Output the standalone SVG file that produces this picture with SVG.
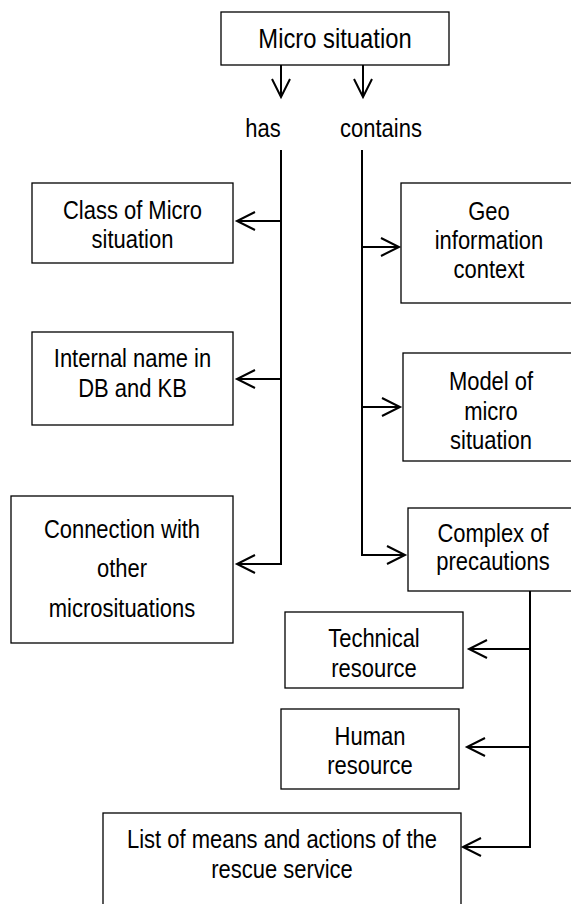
<svg xmlns="http://www.w3.org/2000/svg" width="571" height="904" viewBox="0 0 571 904">
<style>
.box{fill:#fff;stroke:#000;stroke-width:1.3}
.t{font-family:"Liberation Sans",Arial,sans-serif;font-size:26px;fill:#000;text-anchor:middle}
.title{font-size:28px}
.c{fill:none;stroke:#000;stroke-width:2}
</style>
<defs>
<marker id="ah" markerUnits="userSpaceOnUse" markerWidth="24" markerHeight="24" viewBox="-20 -12 24 24" refX="0" refY="0" orient="auto" overflow="visible">
<path d="M-18,-9 L0,0 L-18,9" fill="none" stroke="#000" stroke-width="2"/>
</marker>
</defs>
<rect width="571" height="904" fill="#fff"/>
<g id="connectors">
<path class="c" d="M281,65 V97" marker-end="url(#ah)"/>
<path class="c" d="M363,65 V97" marker-end="url(#ah)"/>
<path class="c" d="M281,150 V564 H237" marker-end="url(#ah)"/>
<path class="c" d="M281,221 H237" marker-end="url(#ah)"/>
<path class="c" d="M281,379 H237" marker-end="url(#ah)"/>
<path class="c" d="M362,150 V555 H405" marker-end="url(#ah)"/>
<path class="c" d="M362,247 H399" marker-end="url(#ah)"/>
<path class="c" d="M362,407 H400" marker-end="url(#ah)"/>
<path class="c" d="M530,591 V847 H463" marker-end="url(#ah)"/>
<path class="c" d="M530,649 H469" marker-end="url(#ah)"/>
<path class="c" d="M530,747 H467" marker-end="url(#ah)"/>
</g>
<g id="label-has"><text class="t" transform="scale(0.845,1)" x="311.24" y="137">has</text></g>
<g id="label-contains"><text class="t" transform="scale(0.845,1)" x="450.89" y="137">contains</text></g>
<g id="micro-situation">
<rect class="box" x="221" y="12" width="228" height="53"/>
<text class="t title" transform="scale(0.85,1)" x="394.12" y="48">Micro situation</text>
</g>
<g id="class">
<rect class="box" x="32" y="183" width="201" height="80"/>
<g transform="scale(0.845,1)">
<text class="t" x="156.80" y="219">Class of Micro</text>
<text class="t" x="156.80" y="248">situation</text>
</g>
</g>
<g id="internal">
<rect class="box" x="32" y="332" width="201" height="93"/>
<g transform="scale(0.845,1)">
<text class="t" x="156.80" y="367">Internal name in</text>
<text class="t" x="156.80" y="397">DB and KB</text>
</g>
</g>
<g id="connection">
<rect class="box" x="11" y="496" width="222" height="147"/>
<g transform="scale(0.845,1)">
<text class="t" x="144.38" y="538">Connection with</text>
<text class="t" x="144.38" y="577">other</text>
<text class="t" x="144.38" y="617">microsituations</text>
</g>
</g>
<g id="geo">
<rect class="box" x="401" y="183" width="200" height="120"/>
<g transform="scale(0.845,1)">
<text class="t" x="578.70" y="220">Geo</text>
<text class="t" x="578.70" y="249">information</text>
<text class="t" x="578.70" y="278">context</text>
</g>
</g>
<g id="model">
<rect class="box" x="403" y="353" width="200" height="108"/>
<g transform="scale(0.845,1)">
<text class="t" x="581.07" y="390">Model of</text>
<text class="t" x="581.07" y="420">micro</text>
<text class="t" x="581.07" y="449">situation</text>
</g>
</g>
<g id="complex">
<rect class="box" x="408" y="508" width="200" height="83"/>
<g transform="scale(0.845,1)">
<text class="t" x="583.43" y="542">Complex of</text>
<text class="t" x="583.43" y="570">precautions</text>
</g>
</g>
<g id="technical">
<rect class="box" x="285" y="612" width="178" height="76"/>
<g transform="scale(0.845,1)">
<text class="t" x="442.60" y="647">Technical</text>
<text class="t" x="442.60" y="677">resource</text>
</g>
</g>
<g id="human">
<rect class="box" x="281" y="709" width="178" height="80"/>
<g transform="scale(0.845,1)">
<text class="t" x="437.87" y="745">Human</text>
<text class="t" x="437.87" y="774">resource</text>
</g>
</g>
<g id="list">
<rect class="box" x="103" y="813" width="358" height="120"/>
<g transform="scale(0.845,1)">
<text class="t" x="333.73" y="848">List of means and actions of the</text>
<text class="t" x="333.73" y="878">rescue service</text>
</g>
</g>
</svg>
